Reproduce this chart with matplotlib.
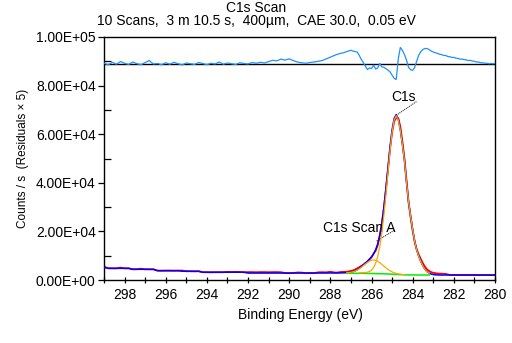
import numpy as np
import matplotlib
matplotlib.use("Agg")
import matplotlib.pyplot as plt
from matplotlib.ticker import MultipleLocator, FuncFormatter

plt.rcParams['font.family'] = ['Liberation Sans', 'DejaVu Sans']

# energy grids: coarse steps away from the peak, 0.1 eV across the fit region
be_wide = np.round(np.arange(299.0, 288.1, -0.2), 1)
be_fine = np.round(np.arange(288.0, 279.95, -0.1), 1)

# counts/s, coarse part (299.0 -> 288.2)
raw_wide = [5500, 4850, 4800, 4800, 5100, 4800, 4800,
            4400, 4450, 4650, 4400, 4400, 4400,
            3850, 3800, 3850, 3850, 3800, 3850,
            3900, 3600, 3600, 3550, 3600,
            3200, 3200, 3150, 3200, 3200, 3200, 3350, 3300, 3350, 3300, 3200,
            3250, 3250, 3200, 3250, 3250, 3200, 3250, 3250, 3200, 2850,
            2800, 2850, 3100, 3050, 2800, 2850, 2800, 3150, 3200, 3150]
env_wide = [5200] + [4800] * 6 + [4400] * 6 + [3850] * 6 + [3600] * 5 + [3200] * 11 + [2850] * 20
resid_wide = [89300, 88500, 89600, 88800, 89900, 89200, 88700,
              89700, 89000, 88600, 89500, 90300, 88900,
              89100, 88600, 89400, 88800, 89600, 89000,
              88500, 89300, 89000, 88700, 89500,
              89100, 88600, 89200, 88900, 89700, 88800, 89300, 89000, 88700, 89400, 89100,
              88900, 89500, 89200, 89600, 89300, 89900, 90400, 90200, 90900, 90500,
              91000, 90300, 89700, 89400, 89200, 89500, 89700, 90000, 90300, 91000]

# counts/s, fine part (288.0 -> 280.0)
raw_fine = [3400, 3250, 3100, 3050, 3150, 3300, 3350, 3350, 3400, 3550,
            3750, 3950, 4300, 4750, 5250, 5750, 6300, 6950, 7450, 8450,
            9350, 10850, 12100, 14400, 18300, 22950, 29500, 37200, 45800, 54000,
            60800, 65300, 66700, 66600, 63100, 56900, 50000, 40700, 31900, 25800,
            20200, 15600, 12500, 10300, 8500, 6800, 5400, 4350, 3700, 3250,
            2950, 2800, 2700, 2600, 2600, 2550, 2500, 2300, 2100, 2050,
            2100, 2050, 2100, 2050, 2050, 2000, 2050, 2100, 2050, 2000,
            2050, 2050, 2000, 2050, 2050, 2000, 2050, 2000, 2050, 2000, 2000]
env_fine = [2850, 2860, 2870, 2880, 2890, 2900, 2920, 2950, 2980, 3070,
            3220, 3430, 3750, 4230, 4790, 5460, 6200, 6960, 7730, 8580,
            9540, 10740, 12380, 14760, 18300, 23210, 29790, 37630, 46250, 54650,
            61770, 66500, 68020, 66190, 61800, 55840, 49250, 40380, 32200, 26300,
            20740, 15830, 12230, 9610, 7510, 5750, 4370, 3390, 2800, 2440,
            2250, 2120, 2070, 2055, 2050, 2050, 2050, 2050, 2050, 2050,
            2050] + [2050] * 8 + [2040] * 6 + [2030] * 6
resid_fine = [91700, 92100, 92400, 92800, 93000, 93300, 93450, 93700, 94000, 94300,
              94550, 94200, 94000, 93850, 92500, 90800, 89500, 88000, 86600, 87300,
              87000, 88400, 86800, 87300, 89100, 87700, 87500, 87000, 86400, 85600,
              84300, 83000, 82500, 91000, 95700, 94500, 92800, 90500, 87500, 86500,
              86300, 87500, 90200, 92600, 94000, 94900, 95250, 95250, 94800, 94200,
              93850, 93500, 93300, 92900, 92800, 92400, 92400, 92000, 91900, 91600,
              91600, 91300, 91200, 90900, 90900, 90700, 90600, 90300, 90400, 90100,
              90000, 89700, 89700, 89400, 89400, 89200, 89200, 89000, 89100, 89000, 89100]
resid_zero = 89000

# Shirley background, 287.2 -> 283.2
be_bg = np.round(np.arange(287.2, 283.15, -0.1), 1)
background = [2770, 2765, 2760, 2755, 2750, 2745, 2740, 2735, 2725, 2715,
              2705, 2690, 2675, 2655, 2635, 2615, 2595, 2570, 2545, 2515,
              2480, 2440, 2395, 2345, 2290, 2240, 2195, 2160, 2130, 2110,
              2095, 2085, 2075, 2070, 2065, 2060, 2055, 2055, 2050, 2050, 2050]

# peak components above background
be_a = np.round(np.arange(287.2, 284.35, -0.1), 1)
comp_a = [190, 284, 427, 639, 939, 1344, 1852, 2463, 3149, 3859,
          4534, 5091, 5466, 5600, 5466, 5091, 4534, 3859, 3149, 2463,
          1852, 1344, 939, 639, 427, 284, 190, 130, 95]
be_main = np.round(np.arange(286.6, 283.15, -0.1), 1)
comp_main = [200, 260, 330, 390, 490, 800, 1400, 2480, 4280, 7050,
             11170, 16780, 24100, 32650, 41920, 50870, 58440, 63520, 65300, 63670,
             59420, 53550, 47020, 38200, 30040, 24160, 18610, 13710, 10120, 7510,
             5420, 3660, 2290, 1310, 720]

be = np.concatenate([be_wide, be_fine])
raw = np.array(raw_wide + raw_fine)
env = np.array(env_wide + env_fine)
resid = np.array(resid_wide + resid_fine)
bg = np.array(background)

fig = plt.figure(figsize=(5.12, 3.43), dpi=100)
ax = fig.add_axes([104 / 512, 1 - 280 / 343, (495 - 104) / 512, (280 - 37) / 343])

ax.plot(be, raw, color='#ff0000', lw=1.3, zorder=2)
ax.plot(be, env, color='#0000ff', lw=1.1, zorder=3)
ax.plot(be_bg, bg, color='#00ee00', lw=1.1, zorder=4)
ax.plot(be_a, bg[:len(comp_a)] + np.array(comp_a), color='#ffa500', lw=0.9, zorder=4)
ax.plot(be_main, bg[6:6 + len(comp_main)] + np.array(comp_main), color='#ffa500', lw=0.9, zorder=4)
ax.axhline(resid_zero, color='black', lw=1.0, zorder=5)
ax.plot(be, resid, color='#1e90ff', lw=0.9, zorder=6)

# peak labels with leader lines
ax.text(284.44, 75300, 'C1s', fontsize=10, ha='center', va='center')
ax.plot([283.82, 284.78], [73400, 67900], color='black', lw=0.7, ls=(0, (1, 1)))
ax.text(284.85, 21400, 'C1s Scan A', fontsize=10, ha='right', va='center')
ax.plot([284.9, 285.76], [20400, 16000], color='black', lw=0.7, ls=(0, (1, 1)))

ax.set_xlim(299, 280)
ax.set_ylim(0, 100000)
ax.xaxis.set_major_locator(MultipleLocator(2))
ax.xaxis.set_minor_locator(MultipleLocator(1))
ax.yaxis.set_major_locator(MultipleLocator(20000))
ax.yaxis.set_minor_locator(MultipleLocator(10000))
ax.yaxis.set_major_formatter(FuncFormatter(lambda v, p: f'{v:.2E}'))
ax.tick_params(axis='x', which='both', direction='inout', length=5, width=0.9, labelsize=10, pad=3)
ax.tick_params(axis='y', which='major', direction='out', length=4, width=0.9, labelsize=10, pad=2)
ax.tick_params(axis='y', which='minor', direction='in', length=5, width=0.9)
for s in ax.spines.values():
    s.set_linewidth(1.0)

fig.text(0.5, 1 - 8 / 343, 'C1s Scan', fontsize=10, ha='center', va='center')
fig.text(0.5, 1 - 21.5 / 343, '10 Scans,  3 m 10.5 s,  400\u00b5m,  CAE 30.0,  0.05 eV',
         fontsize=10, ha='center', va='center')
fig.text(300 / 512, 1 - 315 / 343, 'Binding Energy (eV)', fontsize=10, ha='center', va='center')
fig.text(23 / 512, 1 - 158 / 343, 'Counts / s  (Residuals \u00d7 5)', fontsize=8.5,
         rotation=90, ha='center', va='center')

fig.savefig('out.png', dpi=100)
